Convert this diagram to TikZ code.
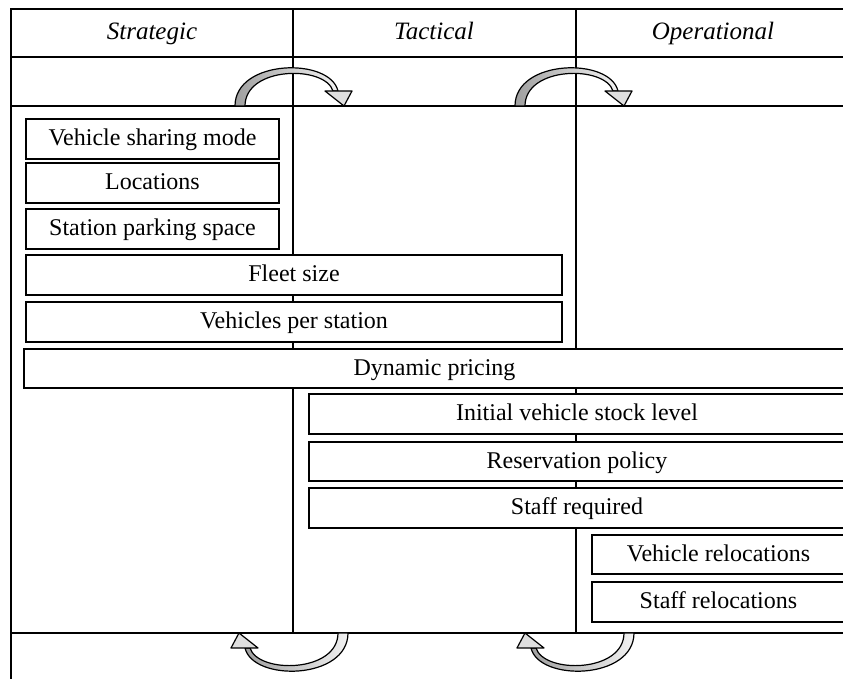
\documentclass[tikz,border=0pt]{standalone}
\usepackage{fontspec}
\setmainfont{Liberation Serif}

\tikzset{
  level/.style={draw, fill=white, line width=0.8pt, inner sep=0pt, text height=8pt, text depth=1pt, font=\fontsize{12}{14}\selectfont},
  head/.style={text height=8pt, text depth=1pt, font=\fontsize{12.5}{14}\selectfont\itshape},
  cycband/.style={draw=black, line width=0.6pt, left color=gray!75, right color=gray!10},
  cyctip/.style={draw=black, line width=0.6pt, fill=gray!25, line join=round},
}

\begin{document}
\begin{tikzpicture}[x=0.5pt,y=-0.5pt]
\useasboundingbox (0,0) rectangle (843,679);
\clip (0,0) rectangle (843,679);

% frame and columns
\draw[line width=1.4pt] (11,679) -- (11,9) -- (850,9);
\draw[line width=0.8pt] (11,57) -- (850,57);
\draw[line width=0.9pt] (11,106) -- (850,106);
\draw[line width=0.9pt] (11,633) -- (850,633);
\draw[line width=0.6pt] (293,9) -- (293,633);
\draw[line width=0.6pt] (576,9) -- (576,633);

% column titles
\node[head] (strat) at (152,33) {Strategic};
\node[head] (tact) at (434,33) {Tactical};
\node[head] (oper) at (713,33) {Operational};

% curved arrows between the levels
\foreach \ox/\oy/\rot in {290/106/0, 570/106/0, 293/633/180, 579/633/180} {
  \begin{scope}[shift={(\ox,\oy)}, rotate=\rot]
    \draw[cycband] (-55,0) .. controls (-55,-47) and (40,-49) .. (48,-15)
      -- (43,-15) .. controls (35,-41) and (-45,-40) .. (-45,0) -- cycle;
    \draw[cyctip] (35,-15) -- (62,-15) -- (54,0) -- cycle;
  \end{scope}
}

% decisions
\node[level, minimum width=126.5pt, minimum height=20pt] (mode) at (152.5,139) {Vehicle sharing mode};
\node[level, minimum width=126.5pt, minimum height=20pt] (loc) at (152.5,183) {Locations};
\node[level, minimum width=126.5pt, minimum height=20pt] (park) at (152.5,229) {Station parking space};
\node[level, minimum width=268pt, minimum height=20pt] (fleet) at (294,275) {Fleet size};
\node[level, minimum width=268pt, minimum height=20pt] (perst) at (294,322) {Vehicles per station};
\node[level, minimum width=410.5pt, minimum height=19.5pt] (price) at (434.5,368.5) {Dynamic pricing};
\node[level, minimum width=268pt, minimum height=20pt] (stock) at (577,414) {Initial vehicle stock level};
\node[level, minimum width=268pt, minimum height=19.5pt] (resv) at (577,461.5) {Reservation policy};
\node[level, minimum width=268pt, minimum height=20pt] (staff) at (577,508) {Staff required};
\node[level, minimum width=126.5pt, minimum height=19.5pt] (vrel) at (718.5,554.5) {Vehicle relocations};
\node[level, minimum width=126.5pt, minimum height=20pt] (srel) at (718.5,602) {Staff relocations};
\end{tikzpicture}
\end{document}
